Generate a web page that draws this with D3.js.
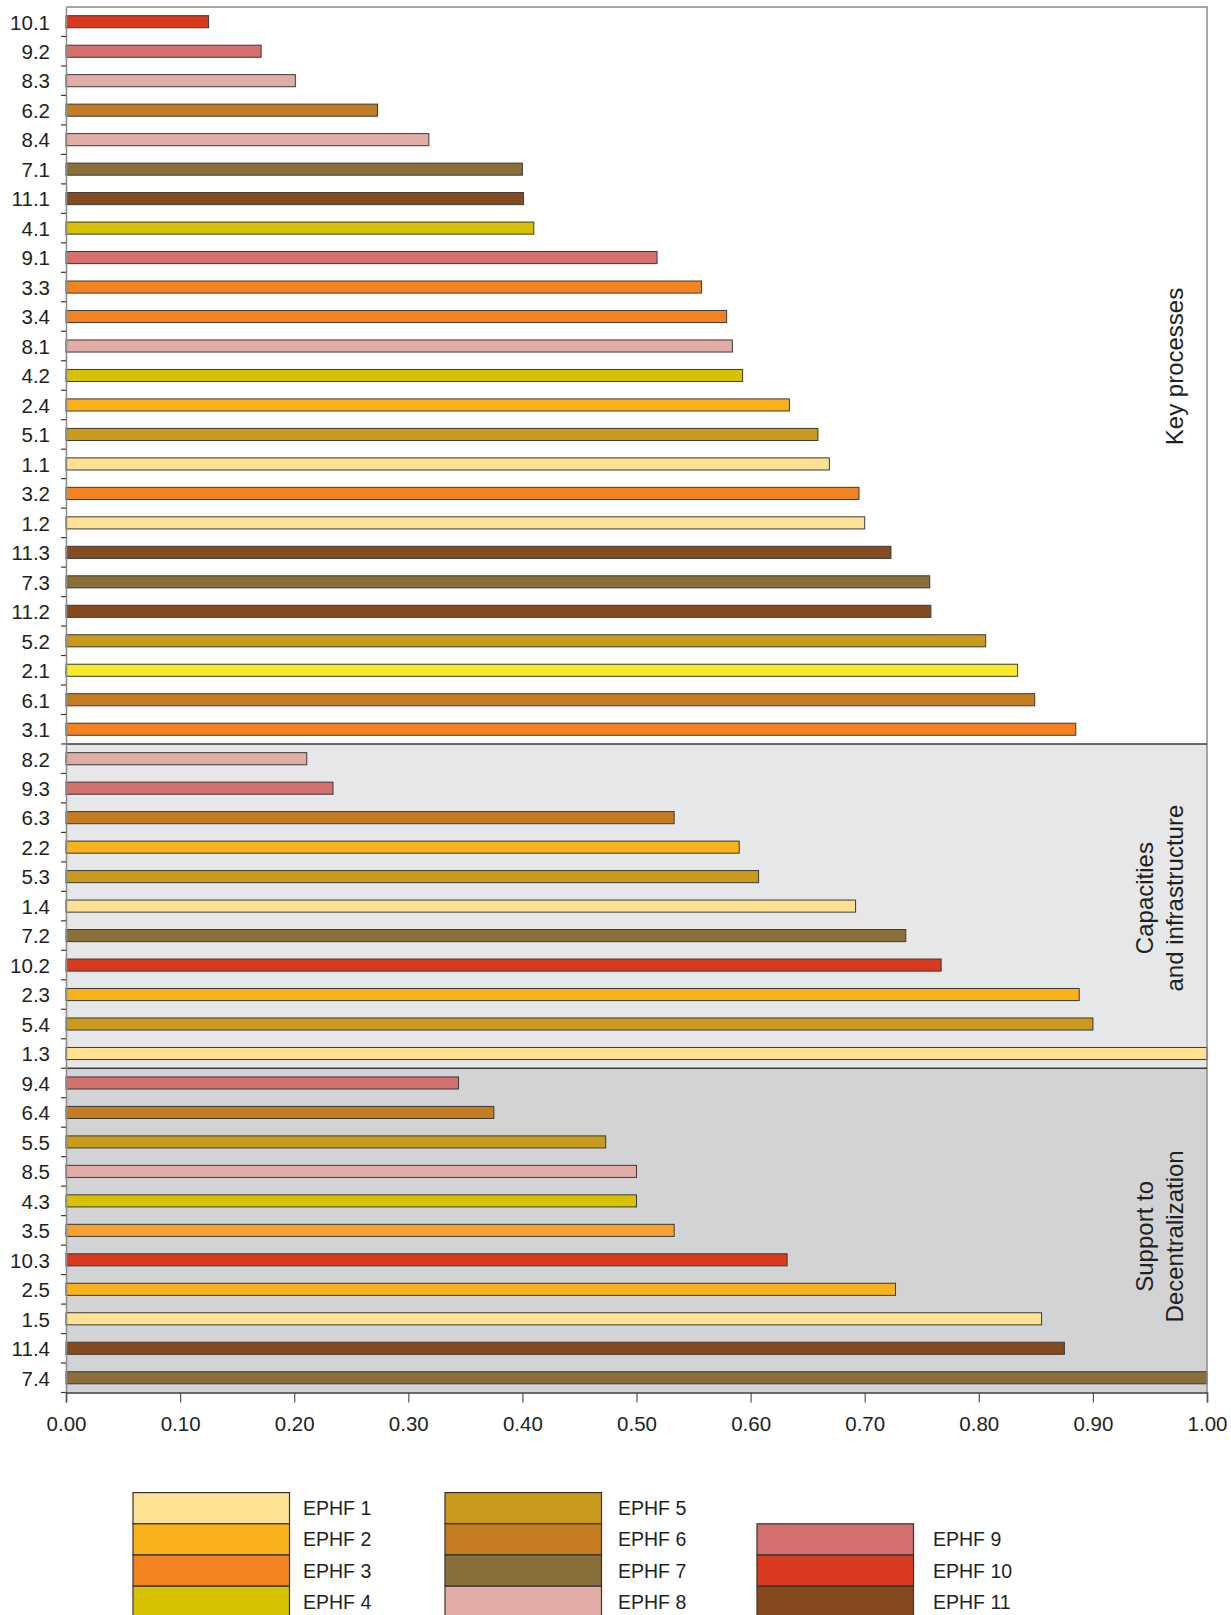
<!DOCTYPE html>
<html>
<head>
<meta charset="utf-8">
<script src="https://cdn.jsdelivr.net/npm/d3@7"></script>
<style>
  html, body { margin: 0; padding: 0; background: #fff; }
  svg { display: block; font-family: "Liberation Sans", Arial, Helvetica, sans-serif; }
</style>
</head>
<body>
<div id="chart"></div>
<script>
// ---------------- DATA ----------------
const categories = [
  "10.1","9.2","8.3","6.2","8.4","7.1","11.1","4.1","9.1","3.3","3.4","8.1","4.2","2.4","5.1",
  "1.1","3.2","1.2","11.3","7.3","11.2","5.2","2.1","6.1","3.1",
  "8.2","9.3","6.3","2.2","5.3","1.4","7.2","10.2","2.3","5.4","1.3",
  "9.4","6.4","5.5","8.5","4.3","3.5","10.3","2.5","1.5","11.4","7.4"
];
const values = [
  0.125,0.171,0.201,0.273,0.318,0.400,0.401,0.410,0.518,0.557,0.579,0.584,0.593,0.634,0.659,
  0.669,0.695,0.700,0.723,0.757,0.758,0.806,0.834,0.849,0.885,
  0.211,0.234,0.533,0.590,0.607,0.692,0.736,0.767,0.888,0.900,1.000,
  0.344,0.375,0.473,0.500,0.500,0.533,0.632,0.727,0.855,0.875,1.000
];
const sectionNames = [["Key processes"], ["Capacities", "and infrastructure"], ["Support to", "Decentralization"]];
const sectionSizes = [25, 11, 11];
const xTicks = [0, 0.1, 0.2, 0.3, 0.4, 0.5, 0.6, 0.7, 0.8, 0.9, 1.0];
const legendLabels = ["EPHF 1","EPHF 2","EPHF 3","EPHF 4","EPHF 5","EPHF 6","EPHF 7","EPHF 8","EPHF 9","EPHF 10","EPHF 11"];
const ephfColors = ["#fee192","#f9b21b","#f38320","#d6c200","#c89b1c","#c57b20","#89703b","#e3ada7","#d4716e","#d9391f","#854a1d"];
const barColorOverrides = { "2.1": "#f8e92b", "3.5": "#f5a031" };
const sectionFills = ["#ffffff", "#e6e7e8", "#d1d3d4"];

// ---------------- LAYOUT ----------------
const W = 1231, H = 1615;
const mLeft = 66, mRight = 1207, mTop = 7, mBottom = 1392.5;
const textColor = "#231f20";

const svg = d3.select("#chart").append("svg").attr("width", W).attr("height", H);
svg.append("rect").attr("width", W).attr("height", H).attr("fill", "#fff");

const x = d3.scaleLinear().domain([0, 1]).range([mLeft, mRight]);
const y = d3.scaleBand().domain(categories).range([mTop, mBottom]).paddingInner(0.59).paddingOuter(0.295);
const step = y.step();
const bandTop = c => y(c) - step * y.paddingInner() / 2;

const colorOf = c => barColorOverrides[c] || ephfColors[+c.split(".")[0] - 1];

// section backgrounds
let start = 0;
const sections = sectionSizes.map((n, i) => {
  const s = { i, first: categories[start], last: categories[start + n - 1], names: sectionNames[i] };
  s.y0 = bandTop(s.first);
  s.y1 = bandTop(s.last) + step;
  start += n;
  return s;
});
svg.append("g").selectAll("rect").data(sections).join("rect")
  .attr("x", mLeft).attr("y", d => d.y0)
  .attr("width", mRight - mLeft).attr("height", d => d.y1 - d.y0)
  .attr("fill", d => sectionFills[d.i]);

// bars
svg.append("g").selectAll("rect").data(categories).join("rect")
  .attr("x", x(0))
  .attr("y", d => y(d))
  .attr("width", (d, i) => x(values[i]) - x(0))
  .attr("height", y.bandwidth())
  .attr("fill", d => colorOf(d))
  .attr("stroke", "#3a3a3a")
  .attr("stroke-width", 1);

// frame: top and right border (gray)
svg.append("path")
  .attr("d", `M${mLeft},${mTop}H${mRight}V${mBottom}`)
  .attr("fill", "none").attr("stroke", "#8a8a8a").attr("stroke-width", 1.5);

// section dividers (dark)
svg.append("g").selectAll("line").data(sections.slice(1)).join("line")
  .attr("x1", mLeft).attr("x2", mRight)
  .attr("y1", d => d.y0).attr("y2", d => d.y0)
  .attr("stroke", "#3a3a3a").attr("stroke-width", 1.5);

// y axis: labels centred on bands
const yAxis = d3.axisLeft(y).tickSize(0).tickPadding(mLeft - 50);
const gy = svg.append("g").attr("transform", `translate(${mLeft},0)`).call(yAxis);
gy.select(".domain").attr("stroke", "#8a8a8a").attr("stroke-width", 1.5);
gy.selectAll("text").attr("font-size", "20.5px").attr("fill", textColor)
  .attr("font-family", "'Liberation Sans', Arial, sans-serif").attr("dy", "0.38em");

// y boundary ticks
const boundaries = categories.map(c => bandTop(c)).slice(1).concat([mBottom]);
svg.append("g").selectAll("line").data(boundaries).join("line")
  .attr("x1", mLeft - 5).attr("x2", mLeft)
  .attr("y1", d => d).attr("y2", d => d)
  .attr("stroke", "#3a3a3a").attr("stroke-width", 1.2);

// x axis
const xAxis = d3.axisBottom(x).tickValues(xTicks).tickFormat(d3.format(".2f")).tickSize(10).tickPadding(14);
const gx = svg.append("g").attr("transform", `translate(0,${mBottom})`).call(xAxis);
gx.select(".domain").attr("stroke", "#3a3a3a").attr("stroke-width", 1.5);
gx.selectAll(".tick line").attr("stroke", "#555").attr("stroke-width", 1.2);
gx.selectAll("text").attr("font-size", "20.5px").attr("fill", textColor)
  .attr("font-family", "'Liberation Sans', Arial, sans-serif");

// section labels (rotated)
const labelOffsets = [-9, -8, 6];
sections.forEach(s => {
  const cy = (s.y0 + s.y1) / 2 + labelOffsets[s.i];
  const n = s.names.length;
  s.names.forEach((t, k) => {
    const bx = 1183 - (n - 1 - k) * 30;
    svg.append("text")
      .attr("transform", `translate(${bx},${cy}) rotate(-90)`)
      .attr("text-anchor", "middle")
      .attr("font-size", "24px")
      .attr("fill", textColor)
      .text(t);
  });
});

// legend
const legCols = [133, 445, 757];
const legRowTop = 1492.6, legRowH = 31.2, legBoxW = 156.5;
const legendItems = legendLabels.map((lab, i) => {
  let col, row;
  if (i < 4) { col = 0; row = i; }
  else if (i < 8) { col = 1; row = i - 4; }
  else { col = 2; row = i - 7; }
  return { lab, col, row, color: ephfColors[i] };
});
const lg = svg.append("g");
lg.selectAll("rect").data(legendItems).join("rect")
  .attr("x", d => legCols[d.col])
  .attr("y", d => legRowTop + d.row * legRowH)
  .attr("width", legBoxW).attr("height", legRowH)
  .attr("fill", d => d.color).attr("stroke", "#333").attr("stroke-width", 1.2);
lg.selectAll("text").data(legendItems).join("text")
  .attr("x", d => legCols[d.col] + 170 + d.col * 3)
  .attr("y", d => legRowTop + d.row * legRowH + legRowH / 2)
  .attr("dy", "0.36em")
  .attr("font-size", "19.5px")
  .attr("fill", textColor)
  .text(d => d.lab);
</script>
</body>
</html>
